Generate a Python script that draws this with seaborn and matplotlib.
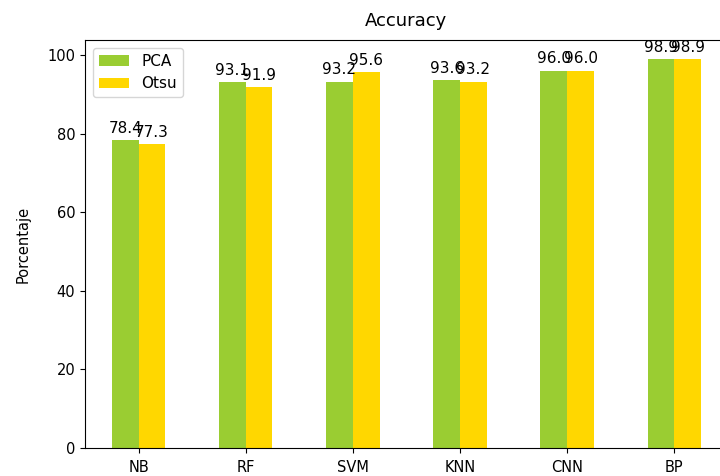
# Accuracy bar chart: PCA vs Otsu per classifier
import matplotlib
matplotlib.use("Agg")
import matplotlib.pyplot as plt
import seaborn as sns
import pandas as pd

models = ["NB", "RF", "SVM", "KNN", "CNN", "BP"]
pca = [78.4, 93.1, 93.2, 93.6, 96.0, 98.9]
otsu = [77.3, 91.9, 95.6, 93.2, 96.0, 98.9]

df = pd.DataFrame({
    "model": models * 2,
    "metodo": ["PCA"] * len(models) + ["Otsu"] * len(models),
    "valor": pca + otsu,
})

fig = plt.figure(figsize=(7.2, 4.76), dpi=100)
ax = fig.add_axes([0.118, 0.059, 0.893, 0.857])

sns.barplot(
    data=df, x="model", y="valor", hue="metodo",
    palette=["yellowgreen", "gold"], saturation=1,
    width=0.5, linewidth=0, errorbar=None, ax=ax,
)

# value labels on top of each bar
for cont in ax.containers:
    ax.bar_label(cont, fmt="%.1f", padding=3, fontsize=11)

ax.set_xlim(-0.5, 5.5)
ax.set_ylim(0, 103.8)
ax.set_title("Accuracy", fontsize=13, pad=10)
ax.set_xlabel("")
ax.set_ylabel("Porcentaje", fontsize=10.5, labelpad=12)
ax.tick_params(labelsize=10.5)
ax.tick_params(axis="x", pad=5)
ax.legend(title=None, loc="upper left", fontsize=11)

fig.savefig("out.png", dpi=100)
